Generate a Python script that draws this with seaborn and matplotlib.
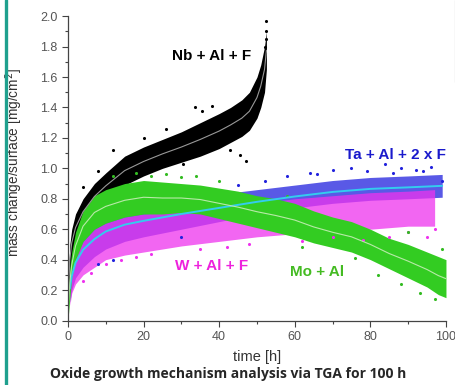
import numpy as np
import pandas as pd
import seaborn as sns
import matplotlib.pyplot as plt
from matplotlib.lines import Line2D

# Cloud envelopes (time [h], lower / upper mass change)
nb_t = [0, 0.5, 1, 2, 4, 7, 10, 15, 20, 25, 30, 35, 40, 43, 46, 48, 50, 51, 52, 52.5]
nb_lo = [0.05, 0.30, 0.42, 0.52, 0.63, 0.73, 0.80, 0.89, 0.95, 1.00, 1.04, 1.08, 1.13, 1.17, 1.21, 1.25, 1.33, 1.40, 1.50, 1.65]
nb_hi = [0.20, 0.50, 0.60, 0.70, 0.80, 0.90, 0.97, 1.08, 1.14, 1.19, 1.24, 1.30, 1.36, 1.40, 1.45, 1.50, 1.60, 1.68, 1.80, 1.90]

ta_t = [0.5, 1, 2, 4, 7, 10, 15, 20, 30, 40, 50, 60, 70, 80, 90, 99]
ta_lo = [0.12, 0.20, 0.28, 0.35, 0.42, 0.47, 0.52, 0.55, 0.60, 0.65, 0.70, 0.74, 0.77, 0.79, 0.80, 0.81]
ta_hi = [0.30, 0.38, 0.48, 0.58, 0.65, 0.70, 0.74, 0.76, 0.80, 0.83, 0.86, 0.89, 0.92, 0.94, 0.95, 0.96]

w_t = [0.5, 1, 2, 4, 7, 10, 15, 20, 25, 30, 40, 50, 60, 70, 80, 90, 97]
w_lo = [0.10, 0.18, 0.24, 0.30, 0.35, 0.40, 0.43, 0.45, 0.47, 0.49, 0.52, 0.55, 0.57, 0.59, 0.60, 0.62, 0.62]
w_hi = [0.25, 0.32, 0.42, 0.52, 0.60, 0.64, 0.68, 0.70, 0.71, 0.72, 0.74, 0.77, 0.80, 0.82, 0.84, 0.85, 0.86]

mo_t = [0, 0.5, 1, 2, 4, 7, 10, 15, 20, 25, 30, 35, 40, 45, 50, 55, 60, 65, 70, 75, 80, 85, 90, 95, 98, 100]
mo_lo = [0.00, 0.15, 0.28, 0.40, 0.52, 0.60, 0.64, 0.68, 0.70, 0.70, 0.71, 0.70, 0.67, 0.64, 0.61, 0.58, 0.55, 0.51, 0.48, 0.45, 0.40, 0.34, 0.28, 0.22, 0.17, 0.15]
mo_hi = [0.10, 0.35, 0.45, 0.58, 0.72, 0.82, 0.86, 0.90, 0.92, 0.91, 0.90, 0.89, 0.87, 0.85, 0.82, 0.80, 0.77, 0.72, 0.68, 0.65, 0.60, 0.54, 0.50, 0.45, 0.42, 0.40]

# stray points outside the dense clouds
nb_px = [52.5, 52.4, 52.3, 52.2, 52.0, 51.8, 33.6, 35.4, 45.5, 42.9, 30.4, 47.0, 20.0, 12.0, 26.0, 8.0, 4.0, 38.0]
nb_py = [1.97, 1.90, 1.85, 1.80, 1.76, 1.72, 1.40, 1.38, 1.09, 1.12, 1.03, 1.05, 1.20, 1.12, 1.26, 0.98, 0.88, 1.41]
ta_px = [58, 64, 70, 75, 79, 84, 88, 92, 96, 99, 45, 12, 8, 30, 52, 66, 86, 94]
ta_py = [0.95, 0.97, 0.99, 1.00, 0.98, 1.03, 1.00, 0.99, 1.01, 0.92, 0.89, 0.40, 0.37, 0.55, 0.92, 0.96, 0.97, 0.98]
w_px = [10, 14, 18, 22, 35, 42, 48, 70, 78, 85, 90, 95, 97, 62, 6, 4]
w_py = [0.37, 0.40, 0.42, 0.44, 0.47, 0.48, 0.50, 0.55, 0.53, 0.55, 0.58, 0.55, 0.60, 0.52, 0.31, 0.26]
mo_px = [12, 18, 26, 34, 40, 58, 62, 76, 82, 88, 93, 97, 99, 90, 22, 30]
mo_py = [0.95, 0.97, 0.96, 0.95, 0.92, 0.82, 0.48, 0.41, 0.30, 0.24, 0.18, 0.14, 0.47, 0.58, 0.95, 0.94]

# fitted curves (centre of each cloud)
nb_fit = [(a + b) / 2 for a, b in zip(nb_lo, nb_hi)]
ta_fit = [(a + b) / 2 for a, b in zip(ta_lo, ta_hi)]
mo_fit = [(a + b) / 2 for a, b in zip(mo_lo, mo_hi)]

sns.set_style("ticks")
plt.rcParams['font.family'] = ['Liberation Sans', 'DejaVu Sans']

fig = plt.figure(figsize=(4.56, 3.85), dpi=100)
ax = fig.add_axes([0.149, 0.1675, 0.829, 0.7905])

ax.fill_between(nb_t, nb_lo, nb_hi, color="black", lw=0)
ax.fill_between(ta_t, ta_lo, ta_hi, color="#3030e0", alpha=0.8, lw=0)
sns.lineplot(x=ta_t, y=ta_fit, color="#33ccee", lw=1.4, ax=ax)
ax.fill_between(w_t, w_lo, w_hi, color="#ee33ee", alpha=0.75, lw=0)
ax.fill_between(mo_t, mo_lo, mo_hi, color="#33cc22", lw=0)

sns.scatterplot(x=nb_px, y=nb_py, color="black", s=5, linewidth=0, ax=ax)
sns.scatterplot(x=ta_px, y=ta_py, color="#2222dd", s=5, linewidth=0, ax=ax)
sns.scatterplot(x=w_px, y=w_py, color="#ee33ee", s=5, linewidth=0, ax=ax)
sns.scatterplot(x=mo_px, y=mo_py, color="#33bb22", s=5, linewidth=0, ax=ax)

sns.lineplot(x=nb_t, y=nb_fit, color="#999999", lw=0.8, ax=ax)
sns.lineplot(x=mo_t, y=mo_fit, color="#b8eaa8", lw=0.8, ax=ax)

ax.text(38, 1.74, "Nb + Al + F", color="black", fontsize=11, fontweight="bold", ha="center", va="center")
ax.text(100, 1.085, "Ta + Al + 2 x F", color="#1a1acc", fontsize=11, fontweight="bold", ha="right", va="center")
ax.text(38, 0.36, "W + Al + F", color="#ee22dd", fontsize=11, fontweight="bold", ha="center", va="center")
ax.text(66, 0.32, "Mo + Al", color="#44bb22", fontsize=11, fontweight="bold", ha="center", va="center")

ax.set_xlim(0, 100)
ax.set_ylim(0, 2.0)
ax.set_xticks([0, 20, 40, 60, 80, 100])
ax.set_yticks(np.arange(0, 2.01, 0.2))
ax.set_xticks(np.arange(10, 100, 20), minor=True)
ax.set_yticks(np.arange(0.1, 2.0, 0.2), minor=True)
ax.yaxis.set_major_formatter(plt.FormatStrFormatter("%.1f"))
ax.tick_params(axis="both", which="major", direction="out", length=4, width=0.8,
               labelsize=9, colors="#444444", labelcolor="#555555")
ax.tick_params(axis="both", which="minor", direction="out", length=2.5, width=0.8, colors="#444444")
for side in ["top", "right"]:
    ax.spines[side].set_visible(False)
for side in ["left", "bottom"]:
    ax.spines[side].set_color("#444444")
    ax.spines[side].set_linewidth(0.9)

ax.set_xlabel("time [h]", fontsize=10.5, color="#333333")
ax.xaxis.set_label_coords(0.5, -0.097)
ax.set_ylabel("mass change/surface [mg/cm$^2$]", fontsize=9.8, color="#333333")
ax.yaxis.set_label_coords(-0.114, 0.52)

fig.text(0.5, 0.028, "Oxide growth mechanism analysis via TGA for 100 h", ha="center", va="center",
         fontsize=10, fontweight="bold", family=["Open Sans", "DejaVu Sans"])

# slide decorations: teal bar on the left, grey rule on the right
fig.add_artist(Line2D([0.0121, 0.0121], [0, 1], transform=fig.transFigure, color="#1fa08e", lw=2.4))
fig.add_artist(Line2D([0.997, 0.997], [0.787, 1], transform=fig.transFigure, color="#888888", lw=0.8))

fig.savefig("out.png", dpi=100)
